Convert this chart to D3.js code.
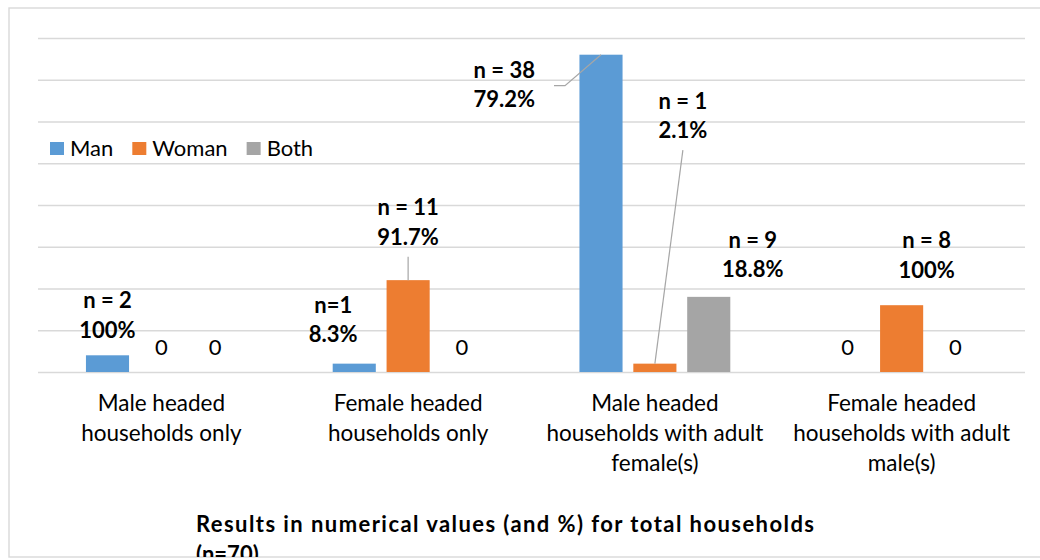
<!DOCTYPE html>
<html>
<head>
<meta charset="utf-8">
<script src="https://cdn.jsdelivr.net/npm/d3@7"></script>
<style>
  html, body { margin: 0; padding: 0; background: #ffffff; }
  svg { display: block; }
  text { font-family: Lato, "Open Sans", "Liberation Sans", sans-serif; fill: #000; }
</style>
</head>
<body>
<svg id="chart" width="1040" height="560"></svg>
<script>
// Household categories (wrapped axis labels)
const categories = [
  ["Male headed", "households only"],
  ["Female headed", "households only"],
  ["Male headed", "households with adult", "female(s)"],
  ["Female headed", "households with adult", "male(s)"]
];
const seriesNames = ["Man", "Woman", "Both"];

// Counts per category for each series
const manValues   = [2, 1, 38, 0];
const womanValues = [0, 11, 1, 8];
const bothValues  = [0, 0, 9, 0];

// Data label text (count line, percentage line); null -> plain value label
const manLabels   = [["n = 2", "100%"], ["n=1", "8.3%"], ["n = 38", "79.2%"], null];
const womanLabels = [null, ["n = 11", "91.7%"], ["n = 1", "2.1%"], ["n = 8", "100%"]];
const bothLabels  = [null, null, ["n = 9", "18.8%"], null];

const yTicks = [0, 5, 10, 15, 20, 25, 30, 35, 40];
const chartTitle = ["Results in numerical values (and %) for total households", "(n=70)"];

const colors = { Man: "#5b9bd5", Woman: "#ed7d31", Both: "#a5a5a5" };

// Manual placement of the multi-line data labels, relative to the top centre of each bar
// anchor: text-anchor; leader: whether a connector line is drawn to the bar
const labelPlacement = {
  Man:   [{dx: 0, dy: -47, anchor: "middle"}, {dx: -21, dy: -51, anchor: "middle"},
          {dx: -66, dy: 23, anchor: "end", leader: "elbow"}, null],
  Woman: [null, {dx: 0, dy: -65, anchor: "middle", leader: "straight"},
          {dx: 28, dy: -255, anchor: "middle", leader: "straight"}, {dx: 25, dy: -57, anchor: "middle"}],
  Both:  [null, null, {dx: 44, dy: -49, anchor: "middle"}, null]
};

const svg = d3.select("#chart");
const W = 1040, H = 560;
const plot = { left: 38, right: 1025, top: 38, bottom: 372 };
const fontSize = 22;
const catFontSize = 22.5;
const lineH = 29.5;

// Outer chart frame; content is clipped to it
svg.append("defs").append("clipPath").attr("id", "frame")
  .append("rect").attr("x", 9).attr("y", 8).attr("width", W).attr("height", 549);
svg.append("rect")
  .attr("x", 9).attr("y", 8).attr("width", W + 10).attr("height", 549)
  .attr("fill", "#fff").attr("stroke", "#d9d9d9").attr("stroke-width", 1.4);

const g = svg.append("g").attr("clip-path", "url(#frame)");

const x0 = d3.scaleBand().domain(d3.range(categories.length))
  .range([plot.left, plot.right]).paddingInner(0).paddingOuter(0);
const x1 = d3.scaleBand().domain(seriesNames)
  .range([0, x0.bandwidth()]).paddingInner(0.2).paddingOuter(0.89);
const y = d3.scaleLinear().domain([0, 40]).range([plot.bottom, plot.top]);

// Horizontal gridlines (no visible axis labels)
const yAxis = d3.axisLeft(y).tickValues(yTicks)
  .tickSize(-(plot.right - plot.left)).tickFormat("");
const ga = g.append("g").attr("transform", `translate(${plot.left},0)`).call(yAxis);
ga.select(".domain").remove();
ga.selectAll(".tick line").attr("stroke", "#d9d9d9").attr("stroke-width", 1.3);

// Bars
const seriesData = [
  { name: "Man",   values: manValues,   labels: manLabels },
  { name: "Woman", values: womanValues, labels: womanLabels },
  { name: "Both",  values: bothValues,  labels: bothLabels }
];
const flat = [];
seriesData.forEach(s => s.values.forEach((v, i) =>
  flat.push({ series: s.name, cat: i, value: v, label: s.labels[i] })));

g.append("g").selectAll("rect").data(flat.filter(d => d.value > 0)).join("rect")
  .attr("x", d => x0(d.cat) + x1(d.series))
  .attr("y", d => y(d.value))
  .attr("width", x1.bandwidth())
  .attr("height", d => y(0) - y(d.value))
  .attr("fill", d => colors[d.series]);

// Data labels and leader lines
const lab = g.append("g");
flat.forEach(d => {
  const cx = x0(d.cat) + x1(d.series) + x1.bandwidth() / 2;
  const top = y(d.value);
  if (!d.label) {
    lab.append("text").attr("x", cx).attr("y", top - 17)
      .attr("text-anchor", "middle").attr("font-size", fontSize).text(d.value);
    return;
  }
  const p = labelPlacement[d.series][d.cat];
  const tx = cx + p.dx, ty = top + p.dy;
  const t = lab.append("text").attr("text-anchor", p.anchor)
    .attr("font-size", fontSize).attr("font-weight", "bold");
  d.label.forEach((line, k) => t.append("tspan").attr("x", tx).attr("y", ty + k * lineH).text(line));
  if (p.leader === "straight") {
    const startY = ty + (d.label.length - 1) * lineH + 12;
    lab.append("line").attr("x1", tx).attr("y1", startY).attr("x2", cx).attr("y2", top)
      .attr("stroke", "#a6a6a6").attr("stroke-width", 1.2);
  } else if (p.leader === "elbow") {
    const ly = ty + 8;
    lab.append("polyline")
      .attr("points", [[tx + 19, ly], [tx + 30, ly], [cx, top]].map(q => q.join(",")).join(" "))
      .attr("fill", "none").attr("stroke", "#a6a6a6").attr("stroke-width", 1.2);
  }
});

// Category labels
const cl = g.append("g");
categories.forEach((lines, i) => {
  const t = cl.append("text").attr("text-anchor", "middle").attr("font-size", catFontSize);
  lines.forEach((line, k) => t.append("tspan")
    .attr("x", x0(i) + x0.bandwidth() / 2).attr("y", 411 + k * 30).text(line));
});

// Legend
const lg = g.append("g").attr("transform", "translate(50,142)");
let lx = 0;
seriesNames.forEach(name => {
  lg.append("rect").attr("x", lx).attr("y", 0).attr("width", 14).attr("height", 13).attr("fill", colors[name]);
  const t = lg.append("text").attr("x", lx + 20).attr("y", 14).attr("font-size", fontSize).text(name);
  lx += 20 + t.node().getComputedTextLength() + 19;
});

// Chart title (second line runs past the frame)
const tt = g.append("text").attr("font-size", fontSize).attr("font-weight", "bold");
chartTitle.forEach((line, k) => {
  const span = tt.append("tspan").attr("x", 196).attr("y", 532 + k * 30).text(line);
  if (k === 0) span.attr("textLength", 618).attr("lengthAdjust", "spacing");
});
</script>
</body>
</html>
